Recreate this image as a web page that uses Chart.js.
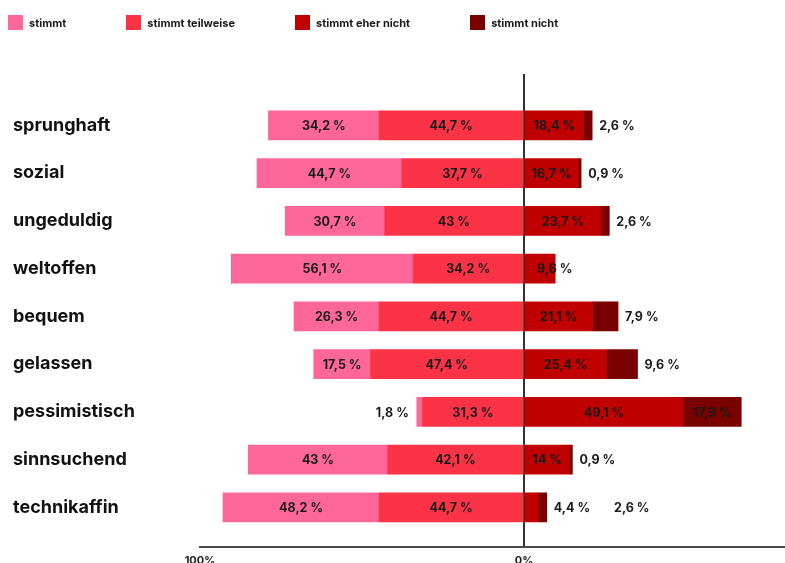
<!DOCTYPE html>
<html lang="de">
<head>
<meta charset="utf-8">
<title>Eigenschaften</title>
<script src="https://cdn.jsdelivr.net/npm/chart.js@4.4.1/dist/chart.umd.min.js"></script>
<style>
  html, body { margin: 0; padding: 0; background: #fff; }
  #wrap { position: relative; width: 785px; height: 563px; overflow: hidden; }
  #legend { position: absolute; left: 8px; top: 15px; display: flex; font: 700 11px 'Inter', sans-serif; color: #1a1a1a; }
  .item { display: flex; align-items: center; margin-right: 60px; }
  .box { width: 15px; height: 15px; margin-right: 6px; }
</style>
</head>
<body>
<div id="wrap">
  <div id="legend"></div>
  <canvas id="chart"></canvas>
</div>
<script>
// Werte in Prozent
const CATEGORIES = ['sprunghaft', 'sozial', 'ungeduldig', 'weltoffen', 'bequem', 'gelassen', 'pessimistisch', 'sinnsuchend', 'technikaffin'];
const STIMMT     = [34.2, 44.7, 30.7, 56.1, 26.3, 17.5, 1.8, 43, 48.2];
const TEILWEISE  = [44.7, 37.7, 43, 34.2, 44.7, 47.4, 31.3, 42.1, 44.7];
const EHER_NICHT = [18.4, 16.7, 23.7, 9.6, 21.1, 25.4, 49.1, 14, 4.4];
const NICHT      = [2.6, 0.9, 2.6, 0, 7.9, 9.6, 17.9, 0.9, 2.6];
const X_TICKS = [-100, 0];

const SERIES = [
    { label: 'stimmt',            values: STIMMT,     color: '#FF6699', side: -1, insideMin: 5 },
    { label: 'stimmt teilweise',  values: TEILWEISE,  color: '#FC3347', side: -1, insideMin: 5 },
    { label: 'stimmt eher nicht', values: EHER_NICHT, color: '#C00000', side: 1,  insideMin: 5 },
    { label: 'stimmt nicht',      values: NICHT,      color: '#7B0000', side: 1,  insideMin: 12 },
];

// Stapelreihenfolge: von der Null-Linie nach außen
const STACK_ORDER = [1, 0, 2, 3];

const FONT = "'Inter', sans-serif";
const fmt = v => String(v).replace('.', ',') + ' %';

// HTML-Legende
document.getElementById('legend').innerHTML = SERIES.map(s =>
    `<div class="item"><span class="box" style="background:${s.color}"></span>${s.label}</div>`
).join('');

const datasets = STACK_ORDER.map(k => {
    const s = SERIES[k];
    return {
        label: s.label,
        data: s.values.map((v, i) => ({ x: s.side * v, y: i })),
        backgroundColor: s.color,
        borderWidth: 0,
        barThickness: 29,
        insideMin: s.insideMin,
    };
});

// Beschriftung der Segmente
const segmentLabels = {
    id: 'segmentLabels',
    afterDatasetsDraw(chart) {
        const ctx = chart.ctx;
        ctx.save();
        ctx.font = `700 12.5px ${FONT}`;
        ctx.fillStyle = '#1a1a1a';
        ctx.textBaseline = 'middle';
        CATEGORIES.forEach((_, i) => {
            let minX = Infinity, maxX = -Infinity, y = 0;
            const outRight = [], outLeft = [];
            chart.data.datasets.forEach((ds, d) => {
                const bar = chart.getDatasetMeta(d).data[i];
                const raw = ds.data[i].x;
                y = bar.y;
                if (!raw) return;
                const lo = Math.min(bar.x, bar.base), hi = Math.max(bar.x, bar.base);
                minX = Math.min(minX, lo);
                maxX = Math.max(maxX, hi);
                const text = fmt(Math.abs(raw));
                if (Math.abs(raw) >= ds.insideMin) {
                    const w = ctx.measureText(text).width;
                    if (w + 6 > hi - lo && raw > 0) {
                        // zu schmal: Text beginnt hinter der Null-Linie
                        ctx.textAlign = 'left';
                        ctx.fillText(text, lo + 12, bar.y + 1);
                    } else {
                        ctx.textAlign = 'center';
                        ctx.fillText(text, (lo + hi) / 2, bar.y + 1);
                    }
                } else if (raw > 0) {
                    outRight.push(text);
                } else {
                    outLeft.push(text);
                }
            });
            let cx = maxX + 7;
            ctx.textAlign = 'left';
            outRight.forEach(t => {
                ctx.fillText(t, cx, y + 1);
                cx += ctx.measureText(t).width + 24;
            });
            cx = minX - 8;
            ctx.textAlign = 'right';
            outLeft.forEach(t => {
                ctx.fillText(t, cx, y + 1);
                cx -= ctx.measureText(t).width + 24;
            });
        });
        ctx.restore();
    }
};

new Chart(document.getElementById('chart'), {
    type: 'bar',
    data: { datasets },
    plugins: [segmentLabels],
    options: {
        indexAxis: 'y',
        responsive: true,
        maintainAspectRatio: false,
        animation: false,
        layout: { padding: { left: 13, top: 74, right: 0, bottom: 0 } },
        plugins: {
            legend: { display: false },
            tooltip: { enabled: false },
        },
        scales: {
            x: {
                type: 'linear',
                stacked: true,
                min: -100,
                max: 80.5,
                z: 1,
                afterBuildTicks: scale => { scale.ticks = X_TICKS.map(v => ({ value: v })); },
                afterFit: scale => { scale.height = 16.3; },
                grid: {
                    drawTicks: false,
                    lineWidth: 2,
                    color: c => (c.tick && c.tick.value === 0 ? '#333' : 'transparent'),
                },
                border: { display: true, color: '#4a4a4a', width: 2 },
                ticks: {
                    padding: 7,
                    font: { family: FONT, size: 11, weight: '700' },
                    color: '#222',
                    callback: v => Math.abs(v) + '%',
                },
            },
            y: {
                type: 'linear',
                stacked: true,
                reverse: true,
                offset: false,
                min: -1.075,
                max: 8.825,
                afterBuildTicks: scale => { scale.ticks = CATEGORIES.map((_, i) => ({ value: i })); },
                afterFit: scale => { scale.width = 187; },
                grid: { display: false, drawTicks: false },
                border: { display: false },
                ticks: {
                    crossAlign: 'far',
                    padding: 0,
                    font: { family: FONT, size: 18, weight: '700' },
                    color: '#111',
                    callback: v => CATEGORIES[v],
                },
            },
        },
    },
});
</script>
</body>
</html>
